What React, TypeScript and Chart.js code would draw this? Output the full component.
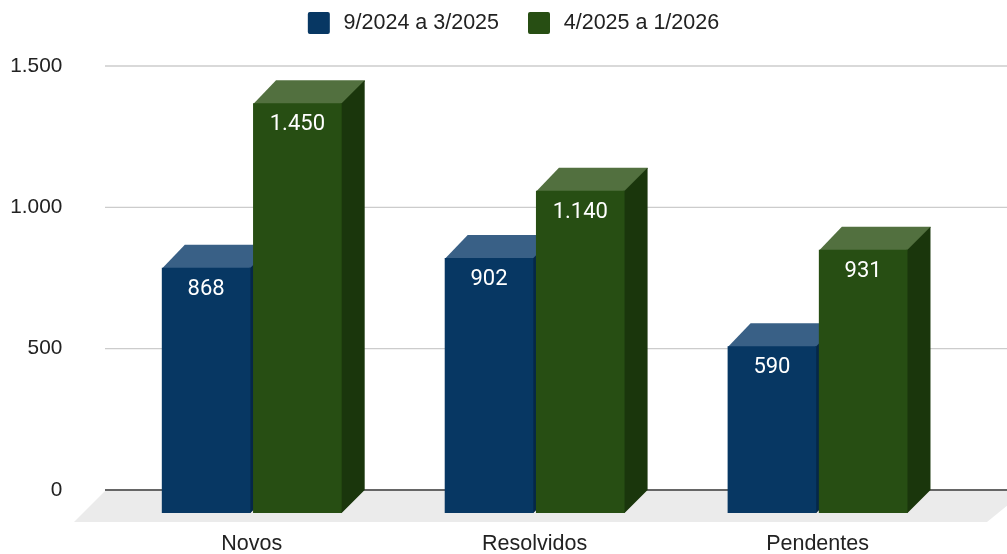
import React, { useEffect, useRef } from "react";
import { Chart, registerables } from "chart.js";

Chart.register(...registerables);

const categories = ["Novos", "Resolvidos", "Pendentes"];
const seriesNames = ["9/2024 a 3/2025", "4/2025 a 1/2026"];
const firstPeriod = [868, 902, 590];
const secondPeriod = [1450, 1140, 931];
const tickLabels: Record<number, string> = { 0: "0", 500: "500", 1000: "1.000", 1500: "1.500" };
const frontColors = ["#073763", "#274e13"];
const topColors = ["#396086", "#52703f"];
const sideColors = ["#052748", "#1a360c"];

const DEPTH = 23;
const LABEL_FONT = "Liberation Sans";

const formatValue = (v: number) =>
  v >= 1000 ? `${Math.floor(v / 1000)}.${String(v % 1000).padStart(3, "0")}` : String(v);

const poly = (ctx: CanvasRenderingContext2D, pts: number[][], fill: string) => {
  ctx.beginPath();
  pts.forEach(([x, y], i) => (i ? ctx.lineTo(x, y) : ctx.moveTo(x, y)));
  ctx.closePath();
  ctx.fillStyle = fill;
  ctx.fill();
};

const threeD = {
  id: "threeD",
  beforeInit(chart: any) {
    chart.legend.afterFit = function () {
      this.height = 66;
    };
  },
  afterLayout(chart: any) {
    const legend = chart.legend;
    legend.top = -17;
    legend.bottom = 66;
    legend.height = 83;
    legend.left += 32.5;
    legend.right += 32.5;
  },
  beforeDatasetsDraw(chart: any) {
    const { ctx, scales } = chart;
    const yScale = scales.y;
    const zero = yScale.getPixelForValue(0);
    ctx.save();
    poly(ctx, [[105, zero + 1], [1025, zero + 1], [987, zero + 32], [74, zero + 32]], "#ebebeb");
    yScale.ticks.forEach((t: any) => {
      const y = yScale.getPixelForValue(t.value);
      ctx.strokeStyle = t.value === 0 ? "#333333" : "#cccccc";
      ctx.lineWidth = t.value === 0 ? 1.6 : 1.4;
      ctx.beginPath();
      ctx.moveTo(105, y);
      ctx.lineTo(1007, y);
      ctx.stroke();
    });
    chart.data.datasets.forEach((_: any, di: number) => {
      chart.getDatasetMeta(di).data.forEach((bar: any) => {
        const x0 = bar.x - bar.width / 2;
        const x1 = bar.x + bar.width / 2;
        poly(ctx, [[x0, bar.y + DEPTH + 1], [x1, bar.y + DEPTH + 1], [x1 + DEPTH, bar.y + 1], [x1 + DEPTH, bar.y], [x0 + DEPTH, bar.y]], topColors[di]);
        poly(ctx, [[x1 - 1, bar.y + DEPTH], [x1, bar.y + DEPTH], [x1 + DEPTH, bar.y], [x1 + DEPTH, bar.base], [x1, bar.base + DEPTH], [x1 - 1, bar.base + DEPTH]], sideColors[di]);
      });
    });
    ctx.restore();
  },
  beforeDatasetDraw(chart: any) {
    chart.ctx.save();
    chart.ctx.translate(0, DEPTH);
  },
  afterDatasetDraw(chart: any) {
    chart.ctx.restore();
  },
  afterDatasetsDraw(chart: any) {
    const { ctx } = chart;
    ctx.save();
    ctx.fillStyle = "#ffffff";
    ctx.font = "22px Roboto";
    ctx.textAlign = "center";
    ctx.textBaseline = "middle";
    chart.data.datasets.forEach((ds: any, di: number) => {
      chart.getDatasetMeta(di).data.forEach((bar: any, i: number) => {
        ctx.fillText(formatValue(ds.data[i]), bar.x, bar.y + DEPTH + 21.5);
      });
    });
    ctx.restore();
  },
};

export default function App() {
  const ref = useRef<HTMLCanvasElement>(null);
  useEffect(() => {
    const chart = new Chart(ref.current!, {
      type: "bar",
      data: {
        labels: categories,
        datasets: [
          { label: seriesNames[0], data: firstPeriod, backgroundColor: frontColors[0], borderWidth: 0, inflateAmount: 0, clip: false as any },
          { label: seriesNames[1], data: secondPeriod, backgroundColor: frontColors[1], borderWidth: 0, inflateAmount: 0, clip: false as any },
        ],
      },
      options: {
        responsive: false,
        animation: false,
        devicePixelRatio: 1,
        layout: { padding: { top: 2, right: 48, left: 0, bottom: 0 } },
        datasets: { bar: { categoryPercentage: 0.645, barPercentage: 0.9715 } },
        plugins: {
          tooltip: { enabled: false },
          legend: {
            position: "top",
            labels: {
              boxWidth: 28,
              boxHeight: 28,
              padding: 26,
              useBorderRadius: true,
              borderRadius: 5,
              color: "#222222",
              font: { family: LABEL_FONT, size: 21.5 },
              generateLabels: (chart: any) =>
                Chart.defaults.plugins.legend.labels.generateLabels(chart).map((item: any) => ({
                  ...item,
                  strokeStyle: "#ffffff",
                  lineWidth: 6,
                })),
            },
          },
        },
        scales: {
          x: {
            grid: { display: false, drawTicks: false },
            border: { display: false },
            ticks: { color: "#222222", padding: 41, font: { family: LABEL_FONT, size: 21.5 }, maxRotation: 0 },
            afterFit: (s: any) => { s.height = 64; },
          },
          y: {
            min: 0,
            max: 1500,
            grid: { display: false, drawTicks: false },
            border: { display: false },
            ticks: {
              stepSize: 500,
              color: "#222222",
              padding: 48,
              font: { family: LABEL_FONT, size: 20.8 },
              callback: (v: any) => tickLabels[v] ?? String(v),
            },
            afterFit: (s: any) => { s.width = 110.3; },
          },
        },
      },
      plugins: [threeD],
    } as any);
    return () => chart.destroy();
  }, []);
  return (
    <div style={{ position: "absolute", left: 0, top: 0, width: 1007, height: 554 }}>
      <canvas ref={ref} width={1007} height={554} style={{ display: "block" }} />
    </div>
  );
}
